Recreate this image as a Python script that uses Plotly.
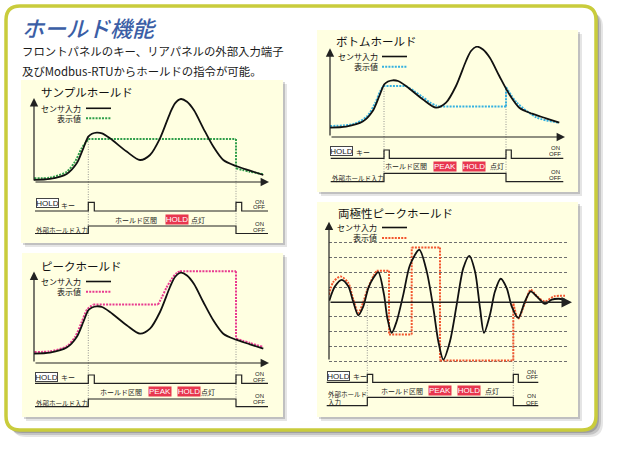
import plotly.graph_objects as go

W, H = 617, 449
CJK = "Noto Sans CJK JP, Noto Sans, sans-serif"
NARROW = "Liberation Sans Narrow, Liberation Sans, Arial, sans-serif"


def fx(x):
    return x / W


def fy(y):
    return 1 - y / H


# ---------------- data ----------------
title_text = "ホールド機能"
subtitle_lines = ["フロントパネルのキー、リアパネルの外部入力端子",
                  "及びModbus-RTUからホールドの指令が可能。"]
panel_titles = ["サンプルホールド", "ピークホールド", "ボトムホールド", "両極性ピークホールド"]
legend_labels = ["センサ入力", "表示値"]
key_label = "キー"
ext_labels = ["外部ホールド入力", "外部ホールド入力", "外部ホールド入力", "外部ホールド<br>入力"]
interval_label = "ホールド区間"
lamp_label = "点灯"
badge_labels = [["HOLD"], ["PEAK", "HOLD"], ["PEAK", "HOLD"], ["PEAK", "HOLD"]]
hold_key_text = "HOLD"
on_off = ["ON", "OFF"]

# sensor input (panels 1-3, same signal)
sensor_t = [0, 16, 32.7, 42.7, 49.3, 54.3, 58, 62.7, 68, 76, 92.7, 106, 116, 126, 136, 141,
            147, 153, 160, 169.3, 179.3, 189.3, 202, 216, 229.3]
sensor_v = [9.4, 10.4, 15.4, 26, 41, 52.7, 55.5, 56.7, 56, 51, 37.7, 29.3, 34.3, 51, 76, 86,
            90.3, 87.5, 79, 61, 42.7, 29.3, 23.3, 18.7, 14.3]

# sensor input (panel 4, bipolar oscillation)
osc_t = [0.3, 6, 12.7, 19.3, 24.3, 29.3, 34.3, 39.3, 44.3, 49.3, 55, 58.3, 62.7, 67.7, 74.3,
         81, 90.3, 97.7, 104.3, 109.3, 114.3, 121, 127.7, 134.3, 140.3, 146, 151, 155, 161,
         166, 171.7, 177.7, 182.7, 189.3, 196, 201.7, 207.7, 216, 222.7, 229.3, 236]
osc_v = [0.09, 1.06, 1.5, 1.06, 0, -0.9, -0.3, 0.94, 1.62, 2.02, 0.5, -1.08, -2.09, -1.3, 0.5,
         2.5, 3.53, 2.07, -0.4, -2.65, -3.89, -2.65, -0.18, 2.29, 3.12, 2.07, -0.4, -2.09, -0.85,
         0.72, 1.57, 0.94, -0.3, -1.08, 0.04, 0.72, 0.38, -0.13, 0.16, 0.22, 0.16]

# displayed values (None separates pieces)
sample_t = [0, 16, 32.7, 41, 47.7, 54.3, None, 54.3, 202, None, 202, 202, None, 202, 216, 229.3]
sample_v = [11, 11.6, 17.6, 27.6, 41, 50.3, None, 50.3, 50.3, None, 50.3, 21, None, 21, 17.6, 15]

peak_t = [0.3, 16, 32.7, 41, 47.7, 53.3, 59.3, None, 59.3, 124, None, 124, 127.7, 132.7, 137.7,
          142.7, 146, None, 146, 202, None, 202, 202, None, 202, 216, 229.3]
peak_v = [11, 11.7, 16.7, 26, 41, 53.7, 58.4, None, 58.4, 58.4, None, 58.4, 65.4, 75.7, 84,
          90, 91.7, None, 91.7, 91.7, None, 91.7, 24.4, None, 24.4, 20, 16]

bottom_t = [0, 23.3, 36.7, 45, 50, 53.3, None, 53.3, 76, None, 76, 84, 92.7, 100, 106, 110, None,
            110, 176, None, 176, 176, None, 176, 186.7, 206.7, 228.3]
bottom_v = [11, 13, 20.3, 33.7, 45.3, 51, None, 51, 51, None, 51, 46, 40, 34.5, 31.5, 30.4, None,
            30.4, 30.4, None, 30.4, 50, None, 50, 34.5, 19.5, 14.5]

bipolar_t = [0, 4.3, 11.7, 19.3, 24.3, 29.3, 34.3, 38.3, 44.3, 47.7, None, 47.7, 60, None, 60, 60,
             None, 60, 82.7, None, 82.7, 82.7, None, 82.7, 111, None, 111, 111, None, 111, 184.3,
             None, 184.3, 184.3, None, 184.3, 189.3, 196, 201.7, 207.7, 216, 225, 236]
bipolar_v = [0.49, 1.35, 1.73, 1.28, 0.16, -0.74, 0, 0.83, 1.73, 2.11, None, 2.11, 2.11, None, 2.11,
             -2.2, None, -2.2, -2.2, None, -2.2, 3.69, None, 3.69, 3.69, None, 3.69, -3.96, None,
             -3.96, -3.96, None, -3.96, -0.1, None, -0.1, -1.12, -0.05, 0.83, 0.4, 0.04, 0.38, 0.43]

# HOLD key and external input signals (0 = OFF, 1 = ON)
key_state = [0, 0, 1, 1, 0, 0, 1, 1, 0, 0]
ext_state = [0, 0, 1, 1, 0, 0]
key_t = [
    [1, 54.3, 54.3, 60.3, 60.3, 202, 202, 207.7, 207.7, 234],
    [1, 54.3, 54.3, 60.3, 60.3, 202, 202, 207.7, 207.7, 234],
    [0.7, 54, 54, 59.3, 59.3, 176, 176, 181.3, 181.3, 233.3],
    [-2.3, 38.3, 38.3, 43.7, 43.7, 184.3, 184.3, 189.3, 189.3, 209.3],
]
ext_t = [
    [1, 54.3, 54.3, 202, 202, 234],
    [1, 54.3, 54.3, 202, 202, 234],
    [0.7, 54, 54, 176, 176, 233.3],
    [-2.3, 38.3, 38.3, 184.3, 184.3, 209.3],
]
hold_t = [[54.3, 202], [54.3, 202], [54, 176], [38.3, 184.3]]
guide_v = [[50.3, 21], [53, 24], [51, 48], [-0.2, -0.2]]

sensor_series = [(sensor_t, sensor_v), (sensor_t, sensor_v), (sensor_t, sensor_v), (osc_t, osc_v)]
display_series = [(sample_t, sample_v), (peak_t, peak_v), (bottom_t, bottom_v), (bipolar_t, bipolar_v)]
display_colors = ["#2f9e4a", "#e8398f", "#35b1e0", "#f2562e"]
grid_levels = [-4, -3, -2, -1, 1, 2, 3, 4]

# ---------------- layout geometry (pixels) ----------------
P = [
    dict(box=(21, 80, 283, 243), mx=(34, 269), tr=(0, 235), my=(182, 96), vr=(7.3, 93.3),
         lx=(34, 269), ltr=(0, 235), B=238, kb=211, kt=202.3, el=233.5, eh=226,
         title=(40, 92), legr=82, legy=(108.3, 118.3), legl=(86, 111),
         hb=(47, 203.5), kl=(60, 204.5), onx=259, on1=(201, 206.6), on2=(223.3, 229.6),
         iv=(136, 219.5), bx=[177.3], by=219.5, lamp=(198.3, 219.5), ext=(35, 229.8),
         yarr=(34, 182, 98), xarr=(34, 269, 182)),
    dict(box=(22, 253, 283, 417), mx=(34, 269), tr=(0, 235), my=(363, 270), vr=(0, 93),
         lx=(34, 269), ltr=(0, 235), B=410, kb=383.3, kt=375, el=406.7, eh=399,
         title=(40, 266), legr=82, legy=(281.5, 291.7), legl=(86, 111),
         hb=(46.7, 376.5), kl=(60, 377), onx=259, on1=(373.5, 379.5), on2=(395.8, 401.7),
         iv=(121, 391.5), bx=[160, 189.2], by=391.7, lamp=(208.3, 391.5), ext=(35, 403.3),
         yarr=(34, 363, 271.5), xarr=(34, 269, 363)),
    dict(box=(317, 30, 578, 192), mx=(330, 565), tr=(0, 235), my=(137, 46), vr=(0, 91),
         lx=(330, 565), ltr=(0, 235), B=186, kb=158.3, kt=150, el=181.7, eh=173.3,
         title=(335, 41), legr=379, legy=(56.5, 66.7), legl=(382, 407),
         hb=(342, 151.2), kl=(355, 152), onx=555, on1=(148, 153.8), on2=(171.3, 177.8),
         iv=(405.5, 166), bx=[444.7, 473.8], by=166.2, lamp=(496.7, 166), ext=(331, 178),
         yarr=(330, 137, 48.3), xarr=(330, 565, 137)),
    dict(box=(317, 202, 578, 417), mx=(329, 568), tr=(0, 239), my=(365, 222), vr=(-4.257, 5.405),
         lx=(326, 572), ltr=(-3, 243), B=410, kb=382.3, kt=374.3, el=405.7, eh=397.3,
         title=(337, 212.5), legr=378, legy=(227.5, 238), legl=(382, 407),
         hb=(338.3, 375.5), kl=(352, 376), onx=531.7, on1=(371, 376.5), on2=(395.5, 402.5),
         iv=(401.7, 390.5), bx=[440, 469.2], by=390.3, lamp=(491.7, 390.5), ext=(327, 398),
         yarr=(329, 361, 221.7), xarr=(329, 572, 302.3)),
]


def rrect(x0, y0, x1, y1, r):
    return (f"M {fx(x0 + r)},{fy(y0)} L {fx(x1 - r)},{fy(y0)} Q {fx(x1)},{fy(y0)} {fx(x1)},{fy(y0 + r)} "
            f"L {fx(x1)},{fy(y1 - r)} Q {fx(x1)},{fy(y1)} {fx(x1 - r)},{fy(y1)} "
            f"L {fx(x0 + r)},{fy(y1)} Q {fx(x0)},{fy(y1)} {fx(x0)},{fy(y1 - r)} "
            f"L {fx(x0)},{fy(y0 + r)} Q {fx(x0)},{fy(y0)} {fx(x0 + r)},{fy(y0)} Z")


shapes = []
annotations = []
traces = []
layout_axes = {}

# outer frame with shadow
for off, op in [(7, 0.10), (5, 0.14), (3, 0.18)]:
    shapes.append(dict(type="path", path=rrect(6 + off - 1, 6 + off, 596 + off, 430 + off, 14),
                       xref="paper", yref="paper", fillcolor=f"rgba(0,0,0,{op})",
                       line=dict(width=0), layer="below"))
shapes.append(dict(type="path", path=rrect(6, 6, 596, 430, 14), xref="paper", yref="paper",
                   fillcolor="white", line=dict(color="#c9cc3c", width=3.5), layer="below"))


def ann(text, x, y, size=7, xanchor="center", color="#222", family=CJK, **kw):
    d = dict(text=text, x=fx(x), y=fy(y), xref="paper", yref="paper", xanchor=xanchor,
             yanchor="middle", showarrow=False, borderpad=0,
             font=dict(size=size, color=color, family=family))
    d.update(kw)
    annotations.append(d)


def arrow(hx, hy, tx, ty, width=1.2):
    annotations.append(dict(text="", x=fx(hx), y=fy(hy), xref="paper", yref="paper",
                            ax=tx - hx, ay=ty - hy, axref="pixel", ayref="pixel",
                            showarrow=True, arrowhead=2, arrowsize=1.4, arrowwidth=width,
                            arrowcolor="#222", standoff=0))


# title texts
ann(title_text, 21, 27, size=22, xanchor="left", color="#3b5ea6")
annotations[-1]["font"]["style"] = "italic"
annotations[-1]["font"]["weight"] = 500
ann(subtitle_lines[0], 21, 51, size=11.4, xanchor="left", color="#1a1a1a")
ann(subtitle_lines[1], 21, 71, size=11.4, xanchor="left", color="#1a1a1a")

for i, p in enumerate(P):
    nm, nl = i + 1, i + 5
    sm = "" if nm == 1 else str(nm)
    # panel background + shadow
    x0, y0, x1, y1 = p["box"]
    for off, op in [(4, 0.10), (2, 0.16)]:
        shapes.append(dict(type="rect", x0=fx(x0 + off), x1=fx(x1 + off), y0=fy(y0 + off),
                           y1=fy(y1 + off), xref="paper", yref="paper",
                           fillcolor=f"rgba(0,0,0,{op})", line=dict(width=0), layer="below"))
    shapes.append(dict(type="rect", x0=fx(x0), x1=fx(x1), y0=fy(y0), y1=fy(y1), xref="paper",
                       yref="paper", fillcolor="#ffffe1", line=dict(width=0), layer="below"))

    # axes
    layout_axes[f"xaxis{sm}"] = dict(domain=[fx(p["mx"][0]), fx(p["mx"][1])], range=list(p["tr"]),
                                     visible=False, anchor=f"y{sm}", fixedrange=True)
    ymain = dict(domain=[fy(p["my"][0]), fy(p["my"][1])], range=list(p["vr"]), visible=False,
                 anchor=f"x{sm}", fixedrange=True)
    if i == 3:
        ymain.update(visible=True, showgrid=True, tickvals=grid_levels, showticklabels=False,
                     ticks="", showline=False, zeroline=False, gridcolor="#6f6f6f",
                     gridwidth=1, griddash="3px,2px")
    layout_axes[f"yaxis{sm}"] = ymain
    layout_axes[f"xaxis{nl}"] = dict(domain=[fx(p["lx"][0]), fx(p["lx"][1])], range=list(p["ltr"]),
                                     visible=False, anchor=f"y{nl}", fixedrange=True)
    layout_axes[f"yaxis{nl}"] = dict(domain=[fy(p["B"]), fy(p["B"] - 40)], range=[0, 40],
                                     visible=False, anchor=f"x{nl}", fixedrange=True)

    # axis arrows
    ax_, yb, yt = p["yarr"]
    arrow(ax_, yt, ax_, yb)
    xa0, xa1, xy = p["xarr"]
    arrow(xa1, xy, xa0, xy, width=1.5 if i == 3 else 1.2)

    # guides (hold start / end)
    for t, v in zip(hold_t[i], guide_v[i]):
        vy = p["my"][0] - (v - p["vr"][0]) / (p["vr"][1] - p["vr"][0]) * (p["my"][0] - p["my"][1])
        shapes.append(dict(type="line", xref=f"x{nl}", yref="paper", x0=t, x1=t, y0=fy(vy),
                           y1=fy(p["eh"]), line=dict(color="#8a8a8a", width=0.9, dash="1px,1.5px"),
                           layer="below"))

    # curves
    st, sv = sensor_series[i]
    dt, dv = display_series[i]
    traces.append(go.Scatter(x=dt, y=dv, xaxis=f"x{sm}", yaxis=f"y{sm}", mode="lines",
                             line=dict(color=display_colors[i], width=2, dash="2px,1.2px",
                                       shape="spline", smoothing=0.8),
                             connectgaps=False, hoverinfo="skip"))
    traces.append(go.Scatter(x=st, y=sv, xaxis=f"x{sm}", yaxis=f"y{sm}", mode="lines",
                             line=dict(color="#111", width=1.8, shape="spline", smoothing=0.8),
                             hoverinfo="skip"))

    # signals
    kbase, kh = p["B"] - p["kb"], p["kb"] - p["kt"]
    ebase, eh = p["B"] - p["el"], p["el"] - p["eh"]
    traces.append(go.Scatter(x=key_t[i], y=[kbase + s * kh for s in key_state],
                             xaxis=f"x{nl}", yaxis=f"y{nl}", mode="lines",
                             line=dict(color="#222", width=1.2), hoverinfo="skip"))
    traces.append(go.Scatter(x=ext_t[i], y=[ebase + s * eh for s in ext_state],
                             xaxis=f"x{nl}", yaxis=f"y{nl}", mode="lines",
                             line=dict(color="#222", width=1.2), hoverinfo="skip"))

    # titles & legend
    ann(panel_titles[i], p["title"][0], p["title"][1], size=11.5, xanchor="left", color="#111")
    ann("<br>".join(legend_labels), p["legr"], (p["legy"][0] + p["legy"][1]) / 2, size=8,
        xanchor="right", align="right", color="#111")
    shapes.append(dict(type="line", xref="paper", yref="paper", x0=fx(p["legl"][0]),
                       x1=fx(p["legl"][1]), y0=fy(p["legy"][0]), y1=fy(p["legy"][0]),
                       line=dict(color="#111", width=1.6)))
    shapes.append(dict(type="line", xref="paper", yref="paper", x0=fx(p["legl"][0]),
                       x1=fx(p["legl"][1]), y0=fy(p["legy"][1]), y1=fy(p["legy"][1]),
                       line=dict(color=display_colors[i], width=2, dash="2px,1.2px")))

    # lane labels
    ann(hold_key_text, p["hb"][0], p["hb"][1], size=8, family=NARROW, color="#222",
        bgcolor="white", bordercolor="#444", borderwidth=1, width=21, height=8)
    ann(key_label, p["kl"][0], p["kl"][1], size=7, xanchor="left")
    ann(on_off[0], p["onx"], p["on1"][0], size=6, family=NARROW, height=5)
    ann(on_off[1], p["onx"], p["on1"][1], size=6, family=NARROW, height=5)
    ann(on_off[0], p["onx"], p["on2"][0], size=6, family=NARROW, height=5)
    ann(on_off[1], p["onx"], p["on2"][1], size=6, family=NARROW, height=5)
    ann(interval_label, p["iv"][0], p["iv"][1], size=7)
    for bxx, lbl in zip(p["bx"], badge_labels[i]):
        ann(lbl, bxx, p["by"], size=8, family=NARROW, color="white", bgcolor="#e8364f",
            width=22, height=9)
    ann(lamp_label, p["lamp"][0], p["lamp"][1], size=7)
    ann(ext_labels[i], p["ext"][0], p["ext"][1], size=6.5, xanchor="left", align="left")

fig = go.Figure(data=traces)
fig.update_layout(
    width=W, height=H, margin=dict(l=0, r=0, t=0, b=0),
    paper_bgcolor="white", plot_bgcolor="rgba(0,0,0,0)",
    showlegend=False, hovermode=False,
    shapes=shapes, annotations=annotations,
    **layout_axes,
)
fig.write_html("out.html", config={"displayModeBar": False},
               post_script="document.body.style.margin='0';document.body.style.padding='0';")
